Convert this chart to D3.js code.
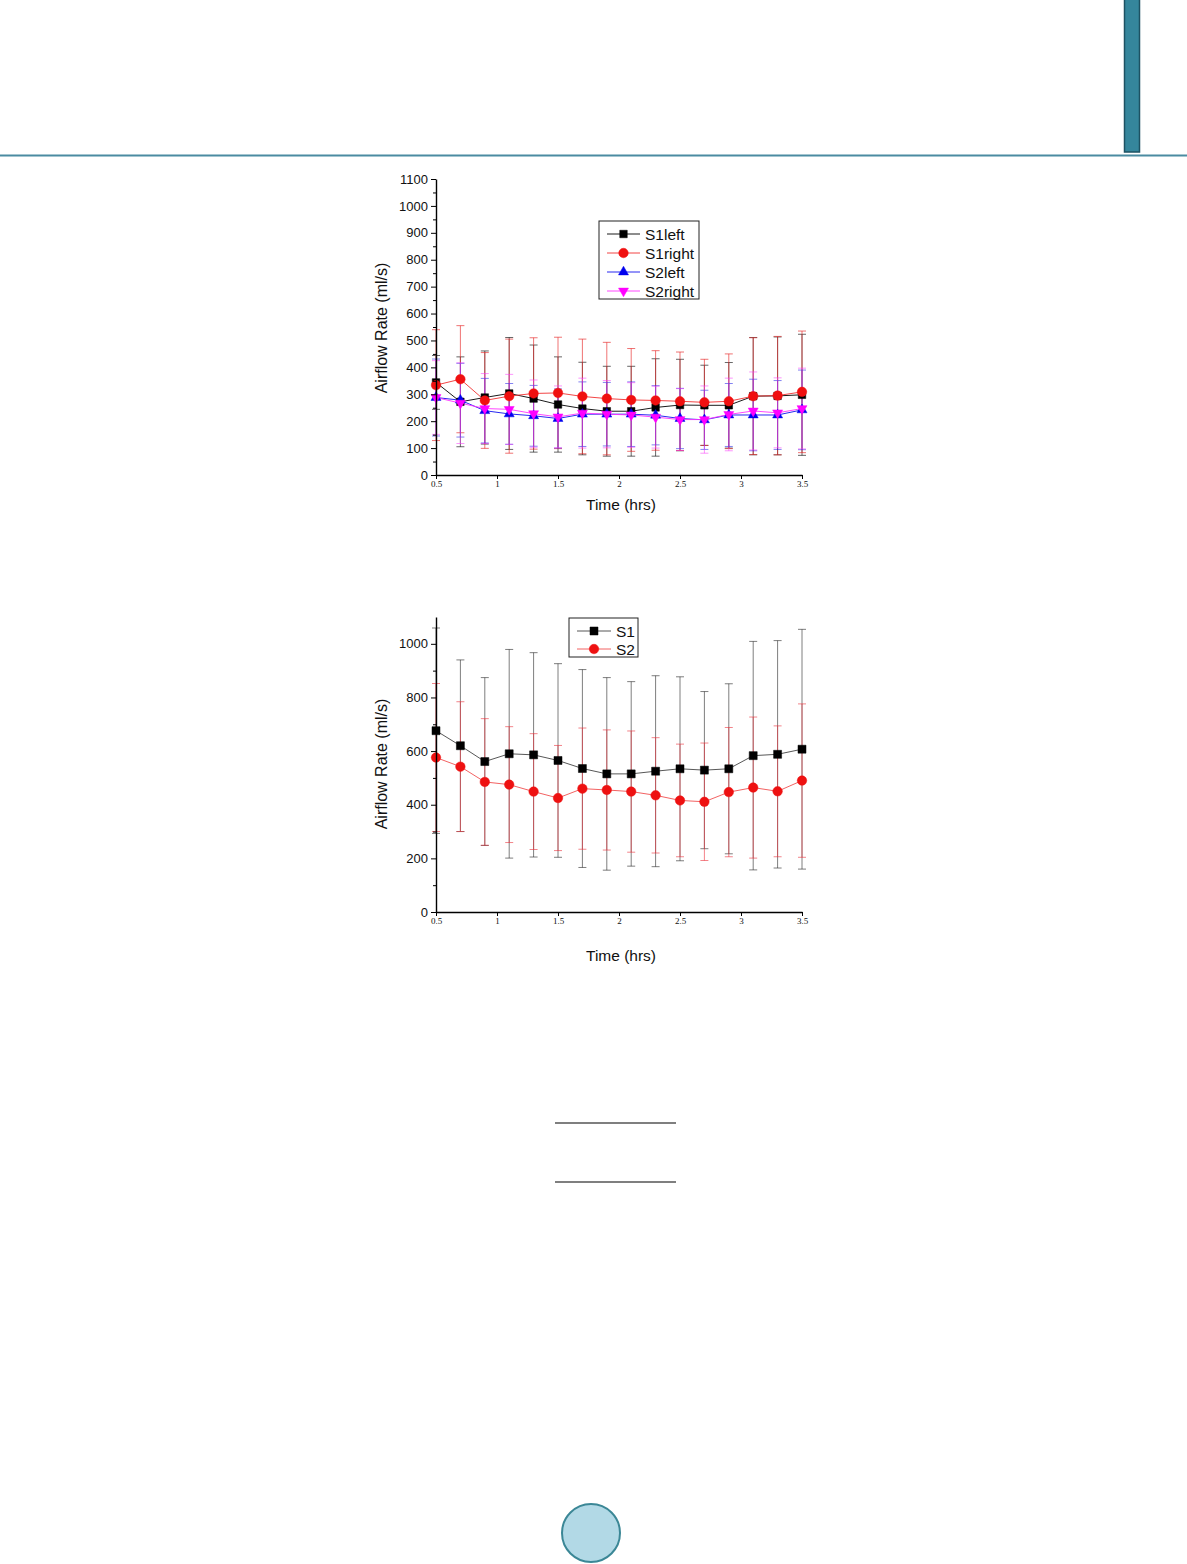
<!DOCTYPE html>
<html>
<head>
<meta charset="utf-8">
<script src="https://cdn.jsdelivr.net/npm/d3@7"></script>
<style>
  body { margin: 0; background: #fff; }
  svg text { font-family: "Liberation Sans", Arial, sans-serif; }
</style>
</head>
<body>
<div id="wrapper"></div>
<script>
// ---- data ----
const times = [0.5, 0.7, 0.9, 1.1, 1.3, 1.5, 1.7, 1.9, 2.1, 2.3, 2.5, 2.7, 2.9, 3.1, 3.3, 3.5]
const xTickValues = [0.5, 1, 1.5, 2, 2.5, 3, 3.5]
const xTickLabels = ["0.5", "1", "1.5", "2", "2.5", "3", "3.5"]

// top chart: sides separately
const s1Left      = [344, 272, 288, 303, 284, 262, 247, 237, 237, 251, 260, 259, 259, 293, 294, 298]
const s1LeftErr   = [100, 167, 173, 208, 199, 177, 172, 167, 167, 181, 170, 149, 159, 218, 219, 225]
const s1Right     = [334, 356, 277, 293, 303, 305, 292, 284, 279, 277, 274, 270, 274, 293, 295, 309]
const s1RightErr  = [206, 199, 178, 212, 207, 207, 213, 209, 191, 185, 183, 160, 176, 217, 220, 226]
const s2Left      = [288, 278, 239, 227, 220, 210, 226, 226, 226, 222, 210, 205, 223, 223, 223, 242]
const s2LeftErr   = [143, 137, 120, 113, 113, 110, 120, 118, 120, 110, 112, 110, 117, 133, 128, 148]
const s2Right     = [288, 267, 247, 244, 228, 216, 230, 226, 223, 215, 206, 206, 225, 238, 231, 247]
const s2RightErr  = [137, 150, 130, 130, 125, 115, 130, 125, 120, 115, 115, 125, 135, 145, 130, 150]
const topYTicks   = [0, 100, 200, 300, 400, 500, 600, 700, 800, 900, 1000, 1100]
const topYMinor   = [50, 150, 250, 350, 450, 550, 650, 750, 850, 950, 1050]

// bottom chart: subjects
const s1Total     = [676, 620, 561, 590, 586, 565, 535, 515, 515, 525, 534, 529, 534, 583, 588, 607]
const s1TotalErr  = [383, 320, 313, 389, 381, 361, 369, 359, 344, 356, 343, 293, 317, 426, 424, 447]
const s2Total     = [576, 542, 485, 475, 449, 425, 460, 455, 449, 435, 416, 411, 447, 464, 450, 490]
const s2TotalErr  = [276, 242, 236, 216, 216, 196, 226, 224, 226, 215, 210, 219, 241, 263, 244, 286]
const bottomYTicks = [0, 200, 400, 600, 800, 1000]
const bottomYMinor = [100, 300, 500, 700, 900]

const svg = d3.select("#wrapper")
    .append("svg")
    .attr("width", 1187)
    .attr("height", 1564)

// ---- page decoration ----
svg.append("rect")
    .attr("x", 1124.5).attr("y", -2)
    .attr("width", 15).attr("height", 154)
    .attr("fill", "#35869c")
    .attr("stroke", "#1d5263")
    .attr("stroke-width", 1.5)

svg.append("line")
    .attr("x1", 0).attr("x2", 1187)
    .attr("y1", 155.5).attr("y2", 155.5)
    .attr("stroke", "#4b8ba1")
    .attr("stroke-width", 2)

svg.selectAll(".rule")
    .data([1123, 1182])
    .join("line")
    .attr("class", "rule")
    .attr("x1", 555).attr("x2", 676)
    .attr("y1", d => d).attr("y2", d => d)
    .attr("stroke", "#000")
    .attr("stroke-width", 1.2)

svg.append("circle")
    .attr("cx", 591).attr("cy", 1533).attr("r", 29)
    .attr("fill", "#b2d9e6")
    .attr("stroke", "#3b8796")
    .attr("stroke-width", 2)

// ---- marker helper (size = visual width in px) ----
function marker(g, shape, x, y, color, size) {
    let sym, area
    if (shape === "square") { sym = d3.symbolSquare; area = size * size }
    else if (shape === "circle") { sym = d3.symbolCircle; area = Math.PI * size * size / 4 }
    else { sym = d3.symbolTriangle; area = Math.sqrt(3) / 4 * size * size }
    return g.append("path")
        .attr("d", d3.symbol(sym, area)())
        .attr("fill", color)
        .attr("stroke", color)
        .attr("stroke-width", 0.5)
        .attr("transform", `translate(${x},${y})` + (shape === "down" ? " rotate(180)" : ""))
}

function drawChart(cfg) {
    const xScaler = d3.scaleLinear().domain([0.5, 3.5]).range([cfg.left, cfg.right])
    const yScaler = d3.scaleLinear().domain([0, 1100]).range([cfg.bottom, cfg.top])

    const bounds = svg.append("g")

    // error bars first
    cfg.series.forEach(s => {
        const eb = bounds.append("g")
            .attr("stroke", s.errColor)
            .attr("stroke-width", 1)
            .attr("fill", "none")
        times.forEach((t, i) => {
            const x = xScaler(t)
            const hi = yScaler(s.values[i] + s.errs[i])
            const lo = yScaler(Math.max(0, s.values[i] - s.errs[i]))
            eb.append("line").attr("x1", x).attr("x2", x).attr("y1", hi).attr("y2", lo)
            eb.append("line").attr("x1", x - 4).attr("x2", x + 4).attr("y1", hi).attr("y2", hi)
            eb.append("line").attr("x1", x - 4).attr("x2", x + 4).attr("y1", lo).attr("y2", lo)
        })
    })

    // lines
    const lineGen = d3.line()
        .x((d, i) => xScaler(times[i]))
        .y(d => yScaler(d))
    cfg.series.forEach(s => {
        bounds.append("path")
            .datum(s.values)
            .attr("d", lineGen)
            .attr("fill", "none")
            .attr("stroke", s.lineColor)
            .attr("stroke-width", 0.9)
    })

    // markers
    cfg.series.forEach(s => {
        const mg = bounds.append("g")
        s.values.forEach((v, i) => marker(mg, s.shape, xScaler(times[i]), yScaler(v), s.color, s.size))
    })

    // axes
    const yAxis = bounds.append("g")
        .attr("transform", `translate(${cfg.left},0)`)
        .call(d3.axisLeft(yScaler).tickValues(cfg.yTicks).tickSize(5).tickSizeOuter(0).tickPadding(3)
            .tickFormat(d3.format("d")))
    yAxis.select(".domain").attr("stroke-width", 1.4)
    yAxis.selectAll("text").attr("font-size", 13).attr("fill", "#111")
    bounds.append("g")
        .attr("transform", `translate(${cfg.left},0)`)
        .call(d3.axisLeft(yScaler).tickValues(cfg.yMinor).tickSize(3).tickFormat(""))
        .select(".domain").remove()

    const xAxis = bounds.append("g")
        .attr("transform", `translate(0,${cfg.bottom})`)
        .call(d3.axisBottom(xScaler).tickValues(xTickValues).tickSize(4).tickSizeOuter(0).tickPadding(2)
            .tickFormat((d, i) => xTickLabels[i]))
    xAxis.select(".domain").attr("stroke-width", 1.4)
    xAxis.selectAll("text").attr("font-size", 9).attr("fill", "#111")
        .style("font-family", "'Liberation Serif', serif")

    // titles
    bounds.append("text")
        .attr("x", (cfg.left + cfg.right) / 2 + 2)
        .attr("y", cfg.xTitleY)
        .attr("text-anchor", "middle")
        .attr("font-size", 15.5)
        .attr("fill", "#111")
        .text("Time (hrs)")
    bounds.append("text")
        .attr("transform", `translate(387,${cfg.yTitleMid}) rotate(-90)`)
        .attr("text-anchor", "middle")
        .attr("font-size", 16)
        .attr("fill", "#111")
        .text("Airflow Rate (ml/s)")

    // legend
    const lg = bounds.append("g")
    lg.append("rect")
        .attr("x", cfg.legend.x).attr("y", cfg.legend.y)
        .attr("width", cfg.legend.w).attr("height", cfg.legend.h)
        .attr("fill", "#fff").attr("stroke", "#222").attr("stroke-width", 1)
    cfg.series.forEach((s, i) => {
        const y = cfg.legend.y + cfg.legend.first + i * cfg.legend.step
        const x0 = cfg.legend.x + 8
        lg.append("line")
            .attr("x1", x0).attr("x2", x0 + cfg.legend.len)
            .attr("y1", y).attr("y2", y)
            .attr("stroke", s.lineColor).attr("stroke-width", 0.9)
        marker(lg, s.shape, x0 + cfg.legend.len / 2, y, s.color, s.size)
        lg.append("text")
            .attr("x", x0 + cfg.legend.len + 5)
            .attr("y", y + 5.5)
            .attr("font-size", 15.5)
            .attr("fill", "#111")
            .text(s.name)
    })
}

drawChart({
    left: 436, right: 802, top: 179, bottom: 475,
    yTicks: topYTicks, yMinor: topYMinor,
    xTitleY: 510, yTitleMid: 328,
    legend: { x: 599, y: 221, w: 100, h: 78, first: 13, step: 19, len: 33 },
    series: [
        { name: "S1left", values: s1Left, errs: s1LeftErr, color: "#000", lineColor: "#000", errColor: "rgba(0,0,0,0.6)", shape: "square", size: 7.5 },
        { name: "S1right", values: s1Right, errs: s1RightErr, color: "#f01010", lineColor: "#f03030", errColor: "rgba(230,40,40,0.65)", shape: "circle", size: 9.5 },
        { name: "S2left", values: s2Left, errs: s2LeftErr, color: "#0000ee", lineColor: "#1010ee", errColor: "rgba(30,30,230,0.55)", shape: "triangle", size: 10 },
        { name: "S2right", values: s2Right, errs: s2RightErr, color: "#ff00ff", lineColor: "#ff33ff", errColor: "rgba(250,60,250,0.55)", shape: "down", size: 10 },
    ],
})

drawChart({
    left: 436, right: 802, top: 617, bottom: 912,
    yTicks: bottomYTicks, yMinor: bottomYMinor,
    xTitleY: 961, yTitleMid: 764,
    legend: { x: 569, y: 618, w: 69, h: 39, first: 13, step: 18, len: 34 },
    series: [
        { name: "S1", values: s1Total, errs: s1TotalErr, color: "#000", lineColor: "#444", errColor: "rgba(40,40,40,0.6)", shape: "square", size: 8 },
        { name: "S2", values: s2Total, errs: s2TotalErr, color: "#ee1111", lineColor: "#f05050", errColor: "rgba(235,50,60,0.6)", shape: "circle", size: 9.5 },
    ],
})
</script>
</body>
</html>
